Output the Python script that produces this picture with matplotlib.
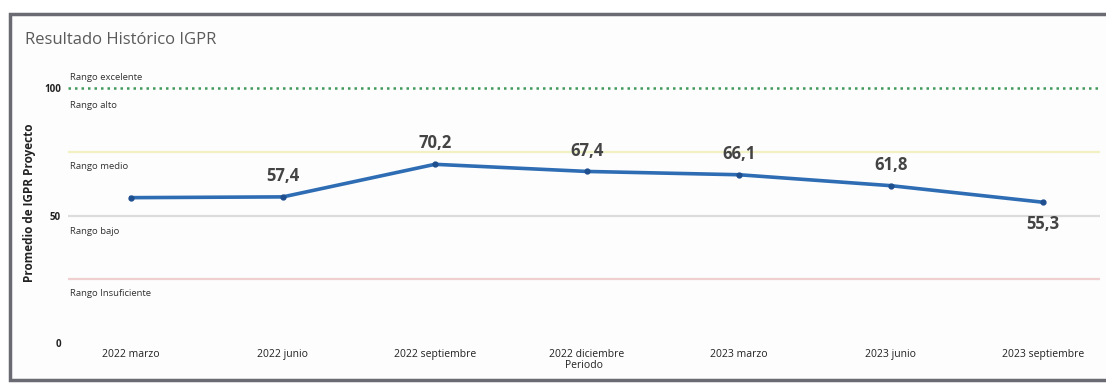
import matplotlib
matplotlib.use('Agg')
import matplotlib.pyplot as plt
from matplotlib.patches import Rectangle

# datos
periodos = ['2022 marzo', '2022 junio', '2022 septiembre', '2022 diciembre',
            '2023 marzo', '2023 junio', '2023 septiembre']
igpr = [57.1, 57.4, 70.2, 67.4, 66.1, 61.8, 55.3]
etiquetas = ['', '57,4', '70,2', '67,4', '66,1', '61,8', '55,3']

# rangos (valor, color, estilo)
limites = [100, 75, 50, 25]
colores_limite = ['#3f9a5c', '#f1f1c4', '#dcdcdc', '#efcfcf']
estilos_limite = [(0, (1, 1.6)), '-', '-', '-']
rangos = ['Rango excelente', 'Rango alto', 'Rango medio', 'Rango bajo', 'Rango Insuficiente']
pos_rangos = [104.5, 93.5, 69.5, 44, 19.5]

plt.rcParams['font.family'] = ['Open Sans', 'DejaVu Sans']

fig = plt.figure(figsize=(11.06, 3.84), dpi=100)
fig.patch.set_facecolor('white')

# marco del panel
marco = Rectangle((10 / 1106, 4 / 384), 1.2, 366 / 384, transform=fig.transFigure,
                  facecolor='#fdfdfd', edgecolor='#6a6a72', linewidth=2.5, zorder=-5)
fig.patches.append(marco)

fig.text(25 / 1106, 1 - 40 / 384, 'Resultado Histórico IGPR', fontsize=12, color='#5a5a5a',
         va='center', ha='left')

ax = fig.add_axes([68 / 1106, 41 / 384, 1032 / 1106, 280 / 384])
ax.set_zorder(2)
ax.set_facecolor('none')
ax.set_xlim(-0.414, 6.375)
ax.set_ylim(0, 110)

for lim, c, ls in zip(limites, colores_limite, estilos_limite):
    lw = 1.8 if lim == 100 else 1.6
    ax.axhline(lim, color=c, linestyle=ls, linewidth=lw, zorder=1)

for texto, y in zip(rangos, pos_rangos):
    ax.text(0.002, y, texto, transform=ax.get_yaxis_transform(), fontsize=6.8,
            color='#333333', va='center', ha='left')

x = list(range(len(periodos)))
ax.plot(x, igpr, color='#2e6db4', linewidth=2.6, marker='o', markersize=3.5,
        markerfacecolor='#1f4f8f', markeredgecolor='#1f4f8f', zorder=3)

for xi, yi, et in zip(x, igpr, etiquetas):
    if not et:
        continue
    if xi == len(x) - 1:
        ax.annotate(et, (xi, yi), xytext=(0, -16), textcoords='offset points', ha='center',
                    va='center', fontsize=12, fontweight='bold', color='#444444')
    else:
        ax.annotate(et, (xi, yi), xytext=(0, 15), textcoords='offset points', ha='center',
                    va='center', fontsize=12, fontweight='bold', color='#444444')

ax.set_xticks(x)
ax.set_xticklabels(periodos, fontsize=7.5, color='#222222')
ax.set_yticks([0, 50, 100])
ax.set_yticklabels(['0', '50', '100'], fontsize=7, fontweight='bold', color='#222222')
ax.tick_params(length=0, pad=4)
ax.tick_params(axis='y', pad=5)
for s in ax.spines.values():
    s.set_visible(False)

ax.set_xlabel('Periodo', fontsize=7.5, color='#222222', labelpad=0)
ax.set_ylabel('Promedio de IGPR Proyecto', fontsize=8.5, fontweight='bold', color='#222222',
              labelpad=6)

plt.savefig('out.png', dpi=100)
